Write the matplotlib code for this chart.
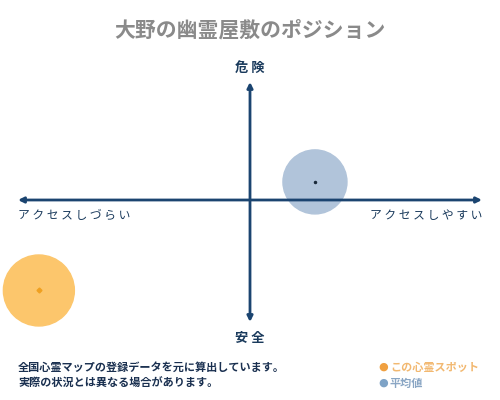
import matplotlib.pyplot as plt
from matplotlib.patches import Circle

plt.rcParams['font.family'] = ['Noto Sans CJK JP', 'DejaVu Sans']

# position values (axis arrow ends at +/-10)
spot_x, spot_y, spot_r = -9.1, -3.9, 1.53
avg_x, avg_y, avg_r = 2.8, 0.78, 1.38

title = '大野の幽霊屋敷のポジション'
top_label = '危 険'
bottom_label = '安 全'
left_label = 'ア ク セ ス し づ ら い'
right_label = 'ア ク セ ス し や す い'
notes = ['全国心霊マップの登録データを元に算出しています。',
         '実際の状況とは異なる場合があります。']
legend_labels = ['この心霊スポット', '平均値']

navy = '#1b4470'
orange = '#fcc66c'
blue = '#b1c4da'

fig = plt.figure(figsize=(5, 4), dpi=100)
ax = fig.add_axes([0, 0, 1, 1])
s = 23.2
ax.set_xlim(-250 / s, 250 / s)
ax.set_ylim(-200 / s, 200 / s)
ax.axis('off')

ax.add_patch(Circle((avg_x, avg_y), avg_r, color=blue, zorder=1))
ax.add_patch(Circle((spot_x, spot_y), spot_r, color=orange, zorder=1))
ax.plot(avg_x, avg_y, 'o', color='#1a2a3a', ms=1.5, zorder=4)
ax.plot(spot_x, spot_y, 'D', color='#f0a020', ms=2.5, zorder=4)

# axes arrows
kw = dict(arrowstyle='<|-|>', color=navy, lw=2, mutation_scale=8, shrinkA=0, shrinkB=0)
ax.annotate('', xy=(-10, 0), xytext=(10, 0), arrowprops=kw, zorder=3)
ax.annotate('', xy=(0, 118 / s), xytext=(0, -122 / s), arrowprops=kw, zorder=3)

lab = dict(color='#1a3a5c', fontsize=9.5, fontweight='bold')
ax.text(0, 132 / s, top_label, ha='center', va='center', **lab)
ax.text(0, -138 / s, bottom_label, ha='center', va='center', **lab)
side = dict(color='#1a3a5c', fontsize=8.5)
ax.text(-232 / s, -15 / s, left_label, ha='left', va='center', **side)
ax.text(232 / s, -15 / s, right_label, ha='right', va='center', **side)

fig.text(0.5, 1 - 30 / 400, title, ha='center', va='center', color='#8a8a8a',
         fontsize=15, fontweight='bold')
fig.text(18 / 500, 1 - 367 / 400, notes[0], ha='left', va='center', color='#1a3050',
         fontsize=8, fontweight='bold')
fig.text(18 / 500, 1 - 383 / 400, notes[1], ha='left', va='center', color='#1a3050',
         fontsize=8, fontweight='bold')

fig.text(383 / 500, 1 - 367 / 400, '●', ha='center', va='center', color='#f0a040',
         fontsize=8, family='DejaVu Sans')
fig.text(383 / 500, 1 - 383 / 400, '●', ha='center', va='center', color='#7ea3c6',
         fontsize=8, family='DejaVu Sans')
fig.text(390 / 500, 1 - 367 / 400, legend_labels[0], ha='left', va='center',
         color='#f2b870', fontsize=8, fontweight='bold')
fig.text(390 / 500, 1 - 383 / 400, legend_labels[1], ha='left', va='center',
         color='#8aa6c4', fontsize=8, fontweight='bold')

fig.savefig('out.png', dpi=100)
